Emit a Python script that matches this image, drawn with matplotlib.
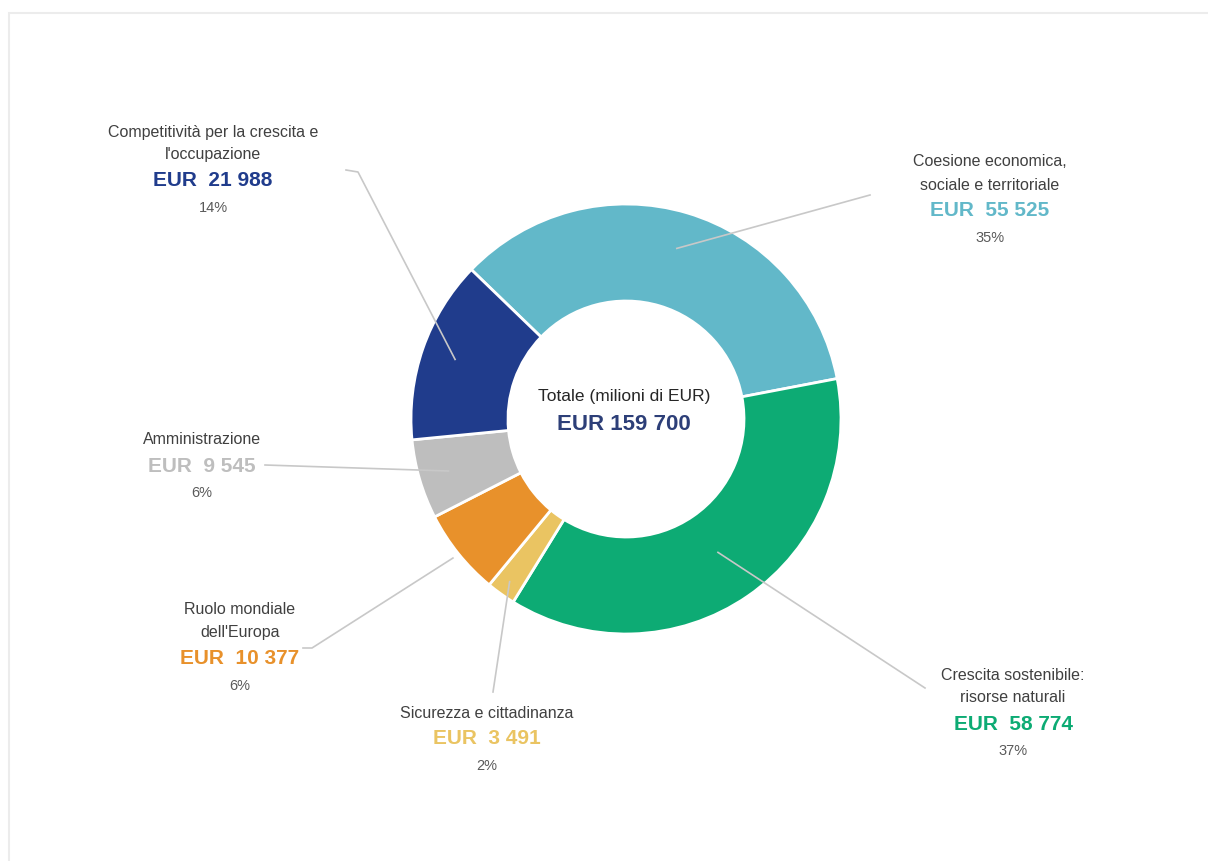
import matplotlib.pyplot as plt
import numpy as np
from matplotlib.patches import Rectangle

plt.rcParams['font.family'] = ['Liberation Sans', 'DejaVu Sans']

# data, in the order the wedges run clockwise from the top-left
names = [["Coesione economica,", "sociale e territoriale"],
         ["Crescita sostenibile:", "risorse naturali"],
         ["Sicurezza e cittadinanza"],
         ["Ruolo mondiale", "dell'Europa"],
         ["Amministrazione"],
         ["Competitività per la crescita e", "l'occupazione"]]
values = [55525, 58774, 3491, 10377, 9545, 21988]
value_labels = ["EUR  55 525", "EUR  58 774", "EUR  3 491",
                "EUR  10 377", "EUR  9 545", "EUR  21 988"]
pct_labels = ["35%", "37%", "2%", "6%", "6%", "14%"]
total_label = "EUR 159 700"
colors = ["#62b8c9", "#0dab74", "#eac462", "#e8912b", "#bebebe", "#203c8c"]

W, H = 1208, 861
fig = plt.figure(figsize=(W / 100, H / 100), dpi=100)
ax = fig.add_axes([0, 0, 1, 1])

# faint frame of the original screenshot
ax.add_patch(Rectangle((9, -5), W, H - 13 + 5, fill=False, ec="#ececec", lw=1.5))

cx, cy = 626, H - 419
R = 215
wedges, _ = ax.pie(values, colors=colors, startangle=136, counterclock=False,
                   center=(cx, cy), radius=R, frame=True,
                   wedgeprops=dict(width=97, edgecolor="white", linewidth=2))
ax.set_xlim(0, W)
ax.set_ylim(0, H)
ax.set_aspect('equal')
ax.axis('off')

# label layout: (x, first line y in image px), leader start radius, leader path
label_pos = [(990, 162), (1013, 675), (487, 713), (240, 610), (202, 440), (213, 132)]
lead_r = [178, 162, 200, 222, 185, 181]
lead_path = [[(870, 195)],
             [(925, 688)],
             [(493, 692)],
             [(312, 648), (303, 648)],
             [(265, 465)],
             [(358, 172), (346, 170)]]

for i, w in enumerate(wedges):
    mid = np.deg2rad((w.theta1 + w.theta2) / 2)
    xs = [cx + lead_r[i] * np.cos(mid)] + [p[0] for p in lead_path[i]]
    ys = [cy + lead_r[i] * np.sin(mid)] + [H - p[1] for p in lead_path[i]]
    ax.plot(xs, ys, color="#c8c8c8", lw=1.2, zorder=3)

    lx, ly = label_pos[i]
    for k, line in enumerate(names[i]):
        ax.text(lx, H - (ly + 23 * k), line, ha="center", va="center",
                fontsize=11.5, color="#404040")
    vy = ly + 23 * (len(names[i]) - 1) + 26
    ax.text(lx, H - vy, value_labels[i], ha="center", va="center", fontsize=15,
            fontweight="bold", color=colors[i])
    ax.text(lx, H - (vy + 27), pct_labels[i], ha="center", va="center",
            fontsize=10.5, color="#5a5a5a")

ax.text(cx - 2, H - 397, "Totale (milioni di EUR)", ha="center", va="center",
        fontsize=12.5, color="#262626")
ax.text(cx - 2, H - 424, total_label, ha="center", va="center", fontsize=16,
        fontweight="bold", color="#2d3f78")

fig.savefig("out.png", dpi=100)
